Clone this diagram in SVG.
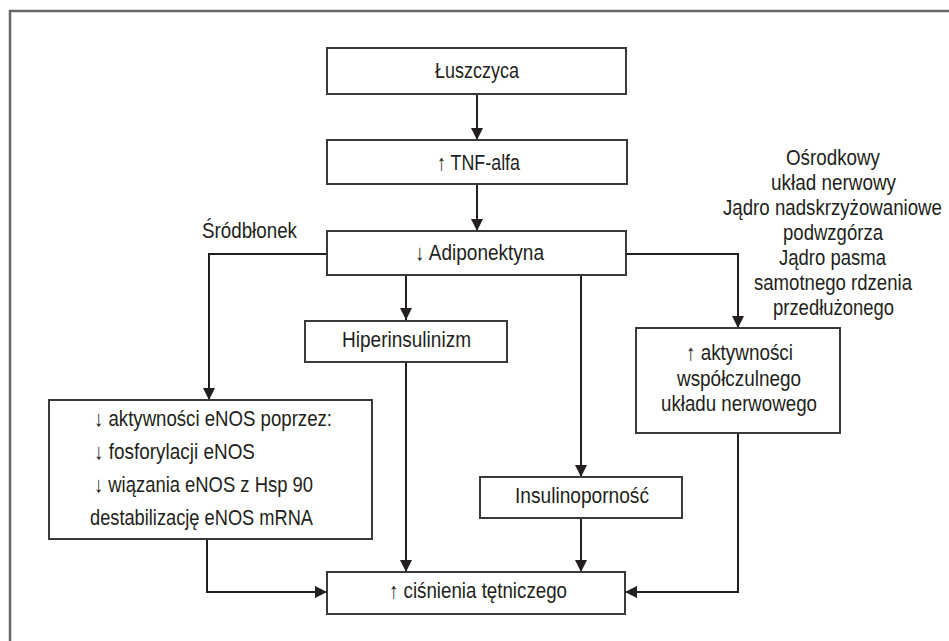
<svg xmlns="http://www.w3.org/2000/svg" width="949" height="641" viewBox="0 0 949 641">
<style>
text{font-family:"Liberation Sans",Arial,sans-serif;font-size:22px;fill:#231f20}
.box{fill:#fff;stroke:#3a3a3a;stroke-width:2}
.ln{fill:none;stroke:#231f20;stroke-width:2}
</style>
<defs>
<marker id="ah" markerUnits="userSpaceOnUse" markerWidth="12" markerHeight="12" refX="12" refY="6" orient="auto">
<path d="M0,0 L12,6 L0,12 z" fill="#231f20"/>
</marker>
</defs>
<rect x="0" y="0" width="949" height="641" fill="#fff"/>
<path d="M10,650 V11 H960" fill="none" stroke="#666" stroke-width="2.5"/>
<g id="connectors">
<path class="ln" d="M477,94 V140" marker-end="url(#ah)"/>
<path class="ln" d="M477,184 V231" marker-end="url(#ah)"/>
<path class="ln" d="M327,254 H209 V400" marker-end="url(#ah)"/>
<path class="ln" d="M406,275 V320" marker-end="url(#ah)"/>
<path class="ln" d="M581,275 V477" marker-end="url(#ah)"/>
<path class="ln" d="M626,254 H738 V328" marker-end="url(#ah)"/>
<path class="ln" d="M406,362 V572" marker-end="url(#ah)"/>
<path class="ln" d="M581,518 V572" marker-end="url(#ah)"/>
<path class="ln" d="M207,539 V592 H327" marker-end="url(#ah)"/>
<path class="ln" d="M738,433 V592 H625" marker-end="url(#ah)"/>
</g>
<g id="luszczyca">
<rect class="box" x="327" y="48" width="299" height="46"/>
<text x="435" y="78" textLength="84" lengthAdjust="spacingAndGlyphs">Łuszczyca</text>
</g>
<g id="tnf">
<rect class="box" x="327" y="140" width="300" height="44"/>
<text x="437" y="170" textLength="83" lengthAdjust="spacingAndGlyphs">↑ TNF-alfa</text>
</g>
<g id="adiponektyna">
<rect class="box" x="327" y="231" width="299" height="44"/>
<text x="415" y="260" textLength="129" lengthAdjust="spacingAndGlyphs">↓ Adiponektyna</text>
</g>
<g id="srodblonek">
<text x="202" y="238" textLength="95" lengthAdjust="spacingAndGlyphs">Śródbłonek</text>
</g>
<g id="osrodkowy">
<text x="786" y="165" textLength="94" lengthAdjust="spacingAndGlyphs">Ośrodkowy</text>
<text x="771" y="190" textLength="125" lengthAdjust="spacingAndGlyphs">układ nerwowy</text>
<text x="723" y="215" textLength="219" lengthAdjust="spacingAndGlyphs">Jądro nadskrzyżowaniowe</text>
<text x="783" y="240" textLength="100" lengthAdjust="spacingAndGlyphs">podwzgórza</text>
<text x="779" y="265" textLength="107" lengthAdjust="spacingAndGlyphs">Jądro pasma</text>
<text x="754" y="290" textLength="158" lengthAdjust="spacingAndGlyphs">samotnego rdzenia</text>
<text x="773" y="315" textLength="121" lengthAdjust="spacingAndGlyphs">przedłużonego</text>
</g>
<g id="hiperinsulinizm">
<rect class="box" x="305" y="321" width="202" height="41"/>
<text x="342" y="347" textLength="129" lengthAdjust="spacingAndGlyphs">Hiperinsulinizm</text>
</g>
<g id="enos">
<rect class="box" x="49" y="400" width="323" height="139"/>
<text x="94" y="426" textLength="238" lengthAdjust="spacingAndGlyphs">↓ aktywności eNOS poprzez:</text>
<text x="94" y="459" textLength="161" lengthAdjust="spacingAndGlyphs">↓ fosforylacji eNOS</text>
<text x="94" y="492" textLength="219" lengthAdjust="spacingAndGlyphs">↓ wiązania eNOS z Hsp 90</text>
<text x="90" y="525" textLength="223" lengthAdjust="spacingAndGlyphs">destabilizację eNOS mRNA</text>
</g>
<g id="wspolczulny">
<rect class="box" x="636" y="328" width="204" height="105"/>
<text x="686" y="360" textLength="107" lengthAdjust="spacingAndGlyphs">↑ aktywności</text>
<text x="677" y="386" textLength="124" lengthAdjust="spacingAndGlyphs">współczulnego</text>
<text x="661" y="411" textLength="156" lengthAdjust="spacingAndGlyphs">układu nerwowego</text>
</g>
<g id="insulinopornosc">
<rect class="box" x="480" y="477" width="202" height="41"/>
<text x="515" y="503" textLength="134" lengthAdjust="spacingAndGlyphs">Insulinoporność</text>
</g>
<g id="cisnienie">
<rect class="box" x="327" y="572" width="298" height="42"/>
<text x="389" y="598" textLength="178" lengthAdjust="spacingAndGlyphs">↑ ciśnienia tętniczego</text>
</g>
</svg>
